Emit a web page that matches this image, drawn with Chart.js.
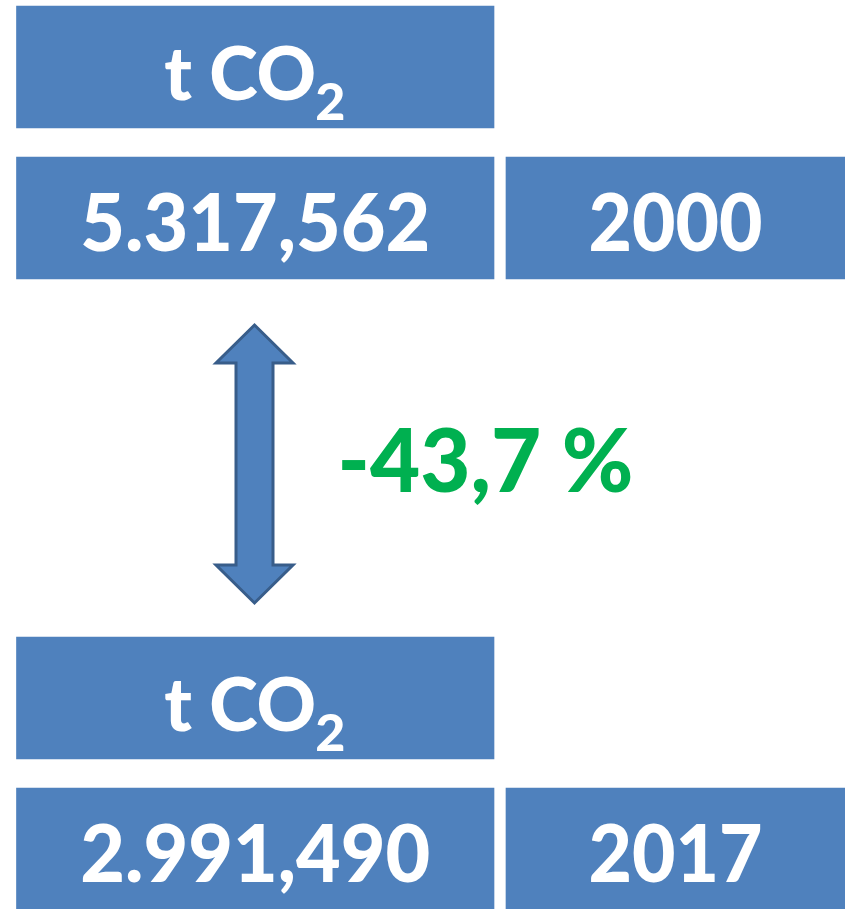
<!DOCTYPE html>
<html>
<head>
<meta charset="utf-8">
<script src="https://cdn.jsdelivr.net/npm/chart.js@4.4.1/dist/chart.umd.min.js"></script>
<style>
  html, body { margin: 0; padding: 0; background: #fff; overflow: hidden; }
  canvas { display: block; }
</style>
</head>
<body>
<canvas id="co2Chart" width="845" height="909"></canvas>
<script>
// Daten
const years = ['2000', '2017'];
const emissions = [5317.562, 2991.490]; // t CO2
const changePct = -43.7;
const unitMain = 't CO';
const unitSub = '2';

// Layout (Einheiten der Achsen)
const colValue = [16.5, 494];
const colYear = [506, 845];
const rowUnit = [67, 698];
const rowValue = [218, 849];
const boxHeight = 122;
const arrow = { x: 254.5, top: 325, bottom: 603, headHalf: 38.5, shaftHalf: 18.5, headLen: 38 };
const changePos = { x: 485.5, y: 492 };

const boxColor = '#4F81BD';
const arrowLine = '#385D8A';
const green = '#00B050';
const FONT = 'Lato, "Open Sans", sans-serif';
const W = '900 ';

// 5317.562 -> 5.317,562
function formatDe(num, dec) {
  let s = num.toFixed(dec).split('.');
  let int = s[0].replace(/\B(?=(\d{3})+(?!\d))/g, '.');
  return int + ',' + s[1];
}

// Kästen + Texte
const boxes = [];
const boxTexts = [];
years.forEach((year, i) => {
  boxes.push({ x: colValue, y: rowUnit[i] });
  boxTexts.push({ type: 'unit' });
  boxes.push({ x: colValue, y: rowValue[i] });
  boxTexts.push({ type: 'text', text: formatDe(emissions[i], 3), maxW: 350 });
  boxes.push({ x: colYear, y: rowValue[i] });
  boxTexts.push({ type: 'text', text: year, maxW: 174 });
});

const labelPlugin = {
  id: 'labels',
  afterDatasetsDraw(chart) {
    const ctx = chart.ctx;
    const xs = chart.scales.x;
    const ys = chart.scales.y;
    const meta = chart.getDatasetMeta(0);

    ctx.save();
    ctx.fillStyle = '#fff';
    ctx.textBaseline = 'alphabetic';
    meta.data.forEach((bar, i) => {
      const t = boxTexts[i];
      const cx = (bar.x + bar.base) / 2;
      const base = bar.y + 33;
      if (t.type === 'unit') {
        ctx.font = W + '74px ' + FONT;
        const w1 = Math.min(ctx.measureText(unitMain).width, 152);
        ctx.font = W + '52px ' + FONT;
        const w2 = ctx.measureText(unitSub).width;
        const start = cx - (w1 + w2) / 2;
        ctx.textAlign = 'left';
        ctx.font = W + '74px ' + FONT;
        ctx.fillText(unitMain, start, base, 152);
        ctx.font = W + '52px ' + FONT;
        ctx.fillText(unitSub, start + w1 - 1, base + 20);
      } else {
        ctx.font = W + '80px ' + FONT;
        ctx.textAlign = 'center';
        ctx.fillText(t.text, cx, base, t.maxW);
      }
    });

    // Doppelpfeil
    const ax = xs.getPixelForValue(arrow.x);
    const hh = arrow.headHalf, sh = arrow.shaftHalf;
    const top = ys.getPixelForValue(arrow.top);
    const bot = ys.getPixelForValue(arrow.bottom);
    const hl = arrow.headLen;
    ctx.beginPath();
    ctx.moveTo(ax, top);
    ctx.lineTo(ax + hh, top + hl);
    ctx.lineTo(ax + sh, top + hl);
    ctx.lineTo(ax + sh, bot - hl);
    ctx.lineTo(ax + hh, bot - hl);
    ctx.lineTo(ax, bot);
    ctx.lineTo(ax - hh, bot - hl);
    ctx.lineTo(ax - sh, bot - hl);
    ctx.lineTo(ax - sh, top + hl);
    ctx.lineTo(ax - hh, top + hl);
    ctx.closePath();
    ctx.fillStyle = boxColor;
    ctx.fill();
    ctx.lineWidth = 3;
    ctx.lineJoin = 'miter';
    ctx.strokeStyle = arrowLine;
    ctx.stroke();

    // Veränderung
    ctx.fillStyle = green;
    ctx.font = W + '88px ' + FONT;
    ctx.textAlign = 'center';
    const changeText = formatDe(changePct, 1) + ' %';
    ctx.fillText(changeText, xs.getPixelForValue(changePos.x), ys.getPixelForValue(changePos.y), 296);
    ctx.restore();
  }
};

new Chart(document.getElementById('co2Chart'), {
  type: 'bar',
  data: {
    datasets: [{
      data: boxes,
      backgroundColor: boxColor,
      borderWidth: 0,
      borderSkipped: false,
      barThickness: boxHeight
    }]
  },
  options: {
    indexAxis: 'y',
    responsive: false,
    animation: false,
    layout: { padding: 0 },
    scales: {
      x: { type: 'linear', min: 0, max: 845, display: false, offset: false },
      y: { type: 'linear', min: 0, max: 909, reverse: true, display: false, offset: false }
    },
    plugins: {
      legend: { display: false },
      tooltip: { enabled: false }
    }
  },
  plugins: [labelPlugin]
});
</script>
</body>
</html>
